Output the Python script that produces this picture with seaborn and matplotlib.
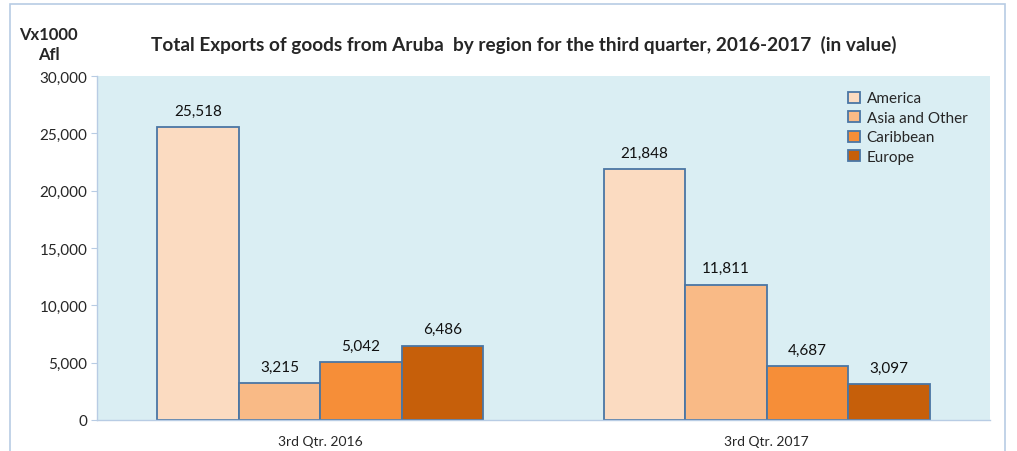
import pandas as pd
import numpy as np
import matplotlib
matplotlib.use('Agg')
import matplotlib.pyplot as plt
import seaborn as sns
from matplotlib.patches import Rectangle

# Data
quarters = ['3rd Qtr. 2016', '3rd Qtr. 2017']
regions = ['America', 'Asia and Other', 'Caribbean', 'Europe']
america = [25518, 21848]
asia_other = [3215, 11811]
caribbean = [5042, 4687]
europe = [6486, 3097]
yticks = [0, 5000, 10000, 15000, 20000, 25000, 30000]

colors = ['#FBDBC1', '#F9BA86', '#F68E38', '#C65F0A']
edge = '#4A76A4'

df = pd.DataFrame({
    'Quarter': quarters * 4,
    'Region': [r for r in regions for _ in quarters],
    'Value': america + asia_other + caribbean + europe,
})

sns.set_style('white')
plt.rcParams['font.family'] = ['Lato', 'DejaVu Sans']

fig = plt.figure(figsize=(10.17, 4.52), dpi=100)
ax = fig.add_axes([0.0954, 0.0686, 0.8781, 0.761])

sns.barplot(data=df, x='Quarter', y='Value', hue='Region', hue_order=regions,
            palette=colors, width=0.73, edgecolor=edge, linewidth=1.3,
            saturation=1, ax=ax)

ax.set_facecolor('#DAEEF3')
ax.set_ylim(0, 30000)
ax.set_yticks(yticks)
ax.set_yticklabels([f'{v:,}' for v in yticks], fontsize=11)
ax.tick_params(axis='y', length=4, color='#B8CCE4', pad=3, left=True)
ax.tick_params(axis='x', length=0, pad=11, labelsize=10)
ax.set_xlabel('')
ax.set_ylabel('')
for s in ['top', 'right']:
    ax.spines[s].set_visible(False)
for s in ['left', 'bottom']:
    ax.spines[s].set_color('#B8CCE4')
    ax.spines[s].set_linewidth(1)

for cont in ax.containers:
    ax.bar_label(cont, labels=[f'{v:,.0f}' for v in cont.datavalues],
                 padding=7, fontsize=11, color='#111111')

leg = ax.legend(loc='upper right', bbox_to_anchor=(0.99, 0.995), frameon=False,
                fontsize=11, handlelength=0.75, handleheight=0.75,
                handletextpad=0.45, labelspacing=0.36)

fig.text(0.515, 0.9, 'Total Exports of goods from Aruba  by region for the third quarter, 2016-2017  (in value)',
         ha='center', va='center', fontsize=13.7, fontweight='bold')
fig.text(0.048, 0.9, 'Vx1000\nAfl', ha='center', va='center', fontsize=12,
         fontweight='bold', linespacing=1.35)

# outer chart border
fig.patches.append(Rectangle((0.010, -0.01), 0.978, 0.998, transform=fig.transFigure,
                             fill=False, edgecolor='#B8CCE4', linewidth=1.2))

fig.savefig('out.png', dpi=100)
